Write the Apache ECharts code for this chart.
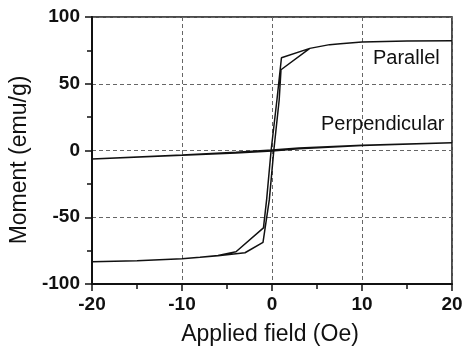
<!DOCTYPE html>
<html>
<head>
<meta charset="utf-8">
<script src="https://cdn.jsdelivr.net/npm/echarts@6/dist/echarts.min.js"></script>
<style>html,body{margin:0;padding:0;background:#fff}#c{width:472px;height:349px}</style>
</head>
<body>
<div id="c"></div>
<script>
// Parallel hysteresis loop (descending branch then ascending branch)
var parField  = [20, 15, 10, 7.6, 6.4, 4.2, 1.05, 0.55, -0.1, -0.6, -0.95, -4, -6, -8, -10, -15, -20,
                 -15, -10, -8, -6, -3, -1, -0.3, 0.2, 0.8, 1.0, 4.2, 6.4, 7.6, 10, 15, 20];
var parMoment = [82.3, 82, 81.3, 80, 79.3, 76.5, 69.5, 38, 0, -37, -58, -75.8, -78.6, -80, -81, -82.5, -83.3,
                 -82.5, -81, -80, -78.8, -76.6, -68.8, -37, 0, 38, 60.5, 76.5, 79.3, 80, 81.3, 82, 82.3];
// Perpendicular loop
var perpField  = [20, 10, 3, 0, -4, -10, -20, -10, -4, 0, 3, 10, 20];
var perpMoment = [5.8, 4.0, 1.8, 0.4, -1.3, -3.3, -6.4, -3.6, -1.9, -0.4, 1.3, 3.7, 5.8];
var xTicks = {min: -20, max: 20, interval: 10};
var yTicks = {min: -100, max: 100, interval: 50};
var labels = {parallel: 'Parallel', perpendicular: 'Perpendicular',
              xName: 'Applied field (Oe)', yName: 'Moment (emu/g)'};

function pairs(xs, ys){ return xs.map(function(x,i){ return [x, ys[i]]; }); }

var FONT = '"Liberation Sans", Arial, sans-serif';
var chart = echarts.init(document.getElementById('c'), null, {renderer:'canvas'});
chart.setOption({
  animation: false,
  backgroundColor: '#fff',
  grid: {left: 92, right: 20, top: 17, bottom: 65, show: true, borderColor: '#111', borderWidth: 1.5,
         containLabel: false, outerBoundsMode: 'none'},
  xAxis: {
    type: 'value', min: xTicks.min, max: xTicks.max, interval: xTicks.interval,
    name: labels.xName, nameLocation: 'middle', nameGap: 39,
    nameTextStyle: {fontFamily: FONT, fontSize: 23, color: '#111', padding: [0, 4, 0, 0]},
    axisLine: {onZero: false, lineStyle: {color: '#111', width: 2}},
    axisTick: {inside: false, length: 7, lineStyle: {color: '#111', width: 1.5}},
    minorTick: {show: true, splitNumber: 2, length: 5, lineStyle: {color: '#111', width: 1.5}},
    axisLabel: {fontFamily: FONT, fontSize: 19, fontWeight: 'bold', color: '#111', margin: 11},
    splitLine: {show: true, lineStyle: {color: '#666', width: 1, type: [4, 3]}}
  },
  yAxis: {
    type: 'value', min: yTicks.min, max: yTicks.max, interval: yTicks.interval,
    name: labels.yName, nameLocation: 'middle', nameGap: 52,
    nameTextStyle: {fontFamily: FONT, fontSize: 23, color: '#111', padding: [0, 19, 0, 0]},
    axisLine: {onZero: false, lineStyle: {color: '#111', width: 2}},
    axisTick: {inside: false, length: 7, lineStyle: {color: '#111', width: 1.5}},
    minorTick: {show: true, splitNumber: 2, length: 5, lineStyle: {color: '#111', width: 1.5}},
    axisLabel: {fontFamily: FONT, fontSize: 19, fontWeight: 'bold', color: '#111', margin: 12},
    splitLine: {show: true, lineStyle: {color: '#666', width: 1, type: [4, 3]}}
  },
  series: [
    {type: 'line', name: labels.parallel, data: pairs(parField, parMoment), showSymbol: false,
     lineStyle: {color: '#111', width: 1.5}},
    {type: 'line', name: labels.perpendicular, data: pairs(perpField, perpMoment), showSymbol: false,
     lineStyle: {color: '#111', width: 1.5}}
  ],
  graphic: [
    {type: 'text', left: 373, top: 48, style: {text: labels.parallel, font: '20px ' + FONT, fill: '#111'}},
    {type: 'text', left: 321, top: 114, style: {text: labels.perpendicular, font: '20px ' + FONT, fill: '#111'}}
  ]
});
</script>
</body>
</html>
